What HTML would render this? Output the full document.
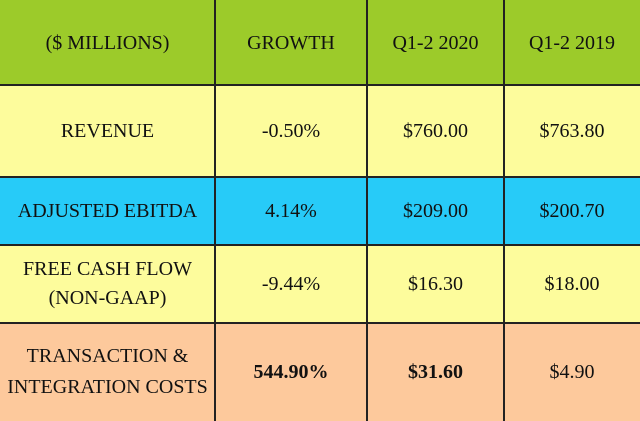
<!DOCTYPE html>
<html><head><meta charset="utf-8"><style>
body{margin:0;width:640px;height:421px;overflow:hidden;background:#fff;font-family:"Liberation Serif",serif;}
.c{position:absolute;display:flex;align-items:center;justify-content:center;text-align:center;font-size:20px;color:#111;line-height:26px;box-sizing:border-box;white-space:nowrap;}
.vl{position:absolute;top:0;height:421px;width:2px;background:#222;}
.hl{position:absolute;left:0;width:640px;height:2px;background:#222;}
</style></head><body>
<div style="position:relative;width:640px;height:421px">
<div style="position:absolute;left:0;top:0;width:640px;height:85px;background:#9ccb2a"></div>
<div style="position:absolute;left:0;top:85px;width:640px;height:92px;background:#fdfc9c"></div>
<div style="position:absolute;left:0;top:177px;width:640px;height:68px;background:#27cbf8"></div>
<div style="position:absolute;left:0;top:245px;width:640px;height:78px;background:#fdfc9c"></div>
<div style="position:absolute;left:0;top:323px;width:640px;height:98px;background:#fdc99c"></div>

<div class="c" style="left:0;top:0;width:215px;height:85px">($ MILLIONS)</div>
<div class="c" style="left:215px;top:0;width:152px;height:85px">GROWTH</div>
<div class="c" style="left:367px;top:0;width:137px;height:85px">Q1-2 2020</div>
<div class="c" style="left:504px;top:0;width:136px;height:85px">Q1-2 2019</div>

<div class="c" style="left:0;top:85px;width:215px;height:92px">REVENUE</div>
<div class="c" style="left:215px;top:85px;width:152px;height:92px">-0.50%</div>
<div class="c" style="left:367px;top:85px;width:137px;height:92px">$760.00</div>
<div class="c" style="left:504px;top:85px;width:136px;height:92px">$763.80</div>

<div class="c" style="left:0;top:177px;width:215px;height:68px">ADJUSTED EBITDA</div>
<div class="c" style="left:215px;top:177px;width:152px;height:68px">4.14%</div>
<div class="c" style="left:367px;top:177px;width:137px;height:68px">$209.00</div>
<div class="c" style="left:504px;top:177px;width:136px;height:68px">$200.70</div>

<div class="c" style="left:0;top:245px;width:215px;height:78px;line-height:29px">FREE CASH FLOW<br>(NON-GAAP)</div>
<div class="c" style="left:215px;top:245px;width:152px;height:78px">-9.44%</div>
<div class="c" style="left:367px;top:245px;width:137px;height:78px">$16.30</div>
<div class="c" style="left:504px;top:245px;width:136px;height:78px">$18.00</div>

<div class="c" style="left:0;top:323px;width:215px;height:98px;line-height:31px">TRANSACTION &amp;<br>INTEGRATION COSTS</div>
<div class="c" style="left:215px;top:323px;width:152px;height:98px;font-weight:bold">544.90%</div>
<div class="c" style="left:367px;top:323px;width:137px;height:98px;font-weight:bold">$31.60</div>
<div class="c" style="left:504px;top:323px;width:136px;height:98px">$4.90</div>

<div class="vl" style="left:214px"></div>
<div class="vl" style="left:366px"></div>
<div class="vl" style="left:503px"></div>
<div class="hl" style="top:84px"></div>
<div class="hl" style="top:176px"></div>
<div class="hl" style="top:244px"></div>
<div class="hl" style="top:322px"></div>
</div>
</body></html>
